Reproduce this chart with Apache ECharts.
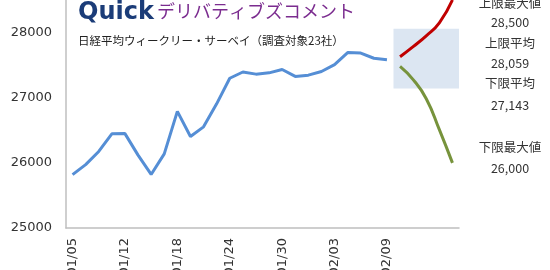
<!DOCTYPE html>
<html><head><meta charset="utf-8">
<script src="https://cdn.jsdelivr.net/npm/echarts@6/dist/echarts.min.js"></script>
<style>html,body{margin:0;padding:0;background:#fff}#c{width:550px;height:270px}</style>
</head><body><div id="c"></div>
<script>
// Actual closes (labels only every 4th category)
const categories = ["01/05","01/06","01/10","01/11","01/12","01/13","01/16","01/17","01/18","01/19","01/20","01/23","01/24","01/25","01/26","01/27","01/30","01/31","02/01","02/02","02/03","02/06","02/07","02/08","02/09","","","","",""];
const labelledTicks = ["01/05","01/12","01/18","01/24","01/30","02/03","02/09"];
const nikkei = [25820,25973,26175,26446,26449,26119,25822,26138,26791,26405,26553,26906,27299,27395,27362,27382,27433,27327,27346,27402,27509,27693,27685,27606,27584];
// Forecast paths over the 5 forecast slots (indices 25..29)
const upperPath = [27630,27785,27950,28150,28500];
const lowerPath = [27480,27277,26985,26510,26000];
// Survey summary
const upperMax = 28500, upperAvg = 28059, lowerAvg = 27143, lowerMax = 26000;
const yTicks = [25000,26000,27000,28000];

const n = categories.length;
const pad = (arr, start) => Array.from({length:n}, (_, i) => (i >= start && i - start < arr.length) ? arr[i - start] : null);
const fmt = v => v.toLocaleString('en-US');

const chart = echarts.init(document.getElementById('c'), null, {renderer:'canvas'});
const jp = '"Noto Sans CJK JP", sans-serif';
const rightTexts = [
  ['上限最大値', 3], [fmt(upperMax), 22],
  ['上限平均', 43], [fmt(upperAvg), 63],
  ['下限平均', 83], [fmt(lowerAvg), 105],
  ['下限最大値', 147], [fmt(lowerMax), 168]
];
chart.setOption({
  animation:false,
  backgroundColor:'#ffffff',
  grid:{left:66, right:91, top:0, bottom:42, containLabel:false, outerBoundsMode:'none'},
  xAxis:[{
    type:'category', data:categories, boundaryGap:true,
    axisLine:{lineStyle:{color:'#BFBFBF', width:1.5}},
    axisTick:{show:false},
    axisLabel:{rotate:90, interval:0, color:'#333', fontSize:13, fontFamily:'"DejaVu Sans", sans-serif', margin:10,
      formatter: v => labelledTicks.includes(v) ? v : ''}
  },{
    type:'value', min:0, max:n, show:false
  }],
  yAxis:{
    type:'value', min:yTicks[0], max:upperMax, interval:1000,
    axisLine:{show:true, lineStyle:{color:'#BFBFBF', width:1.5}},
    axisTick:{show:false}, splitLine:{show:false},
    axisLabel:{showMaxLabel:false, color:'#333', fontSize:13, fontFamily:'"DejaVu Sans", sans-serif', margin:14,
      formatter: v => String(v)}
  },
  series:[
    {type:'line', xAxisIndex:1, data:[], silent:true,
      markArea:{silent:true, itemStyle:{color:'#DCE6F2'},
        data:[[{xAxis:25, yAxis:lowerAvg},{xAxis:n, yAxis:upperAvg}]]}},
    {type:'line', data:nikkei, showSymbol:false, lineStyle:{color:'#558ED5', width:3}, itemStyle:{color:'#558ED5'}},
    {type:'line', data:pad(upperPath,25), smooth:true, showSymbol:false, lineStyle:{color:'#C00000', width:3}, itemStyle:{color:'#C00000'}},
    {type:'line', data:pad(lowerPath,25), smooth:true, showSymbol:false, lineStyle:{color:'#77933C', width:3}, itemStyle:{color:'#77933C'}}
  ],
  graphic:[
    {type:'text', left:78, top:1, style:{text:'Quick', font:'bold 24px "DejaVu Sans", sans-serif', fill:'#1B3C78'}},
    {type:'text', left:157, top:2, style:{text:'デリバティブズコメント', font:'18px '+jp, fill:'#7B2C8F'}},
    {type:'text', left:78, top:35, style:{text:'日経平均ウィークリー・サーベイ（調査対象23社）', font:'11.5px '+jp, fill:'#222'}},
    ...rightTexts.map(([t,y]) => ({type:'text', x:510, y:y, style:{text:t, font:'12.5px '+jp, fill:'#333', textAlign:'center', textVerticalAlign:'middle'}}))
  ]
});
</script></body></html>
